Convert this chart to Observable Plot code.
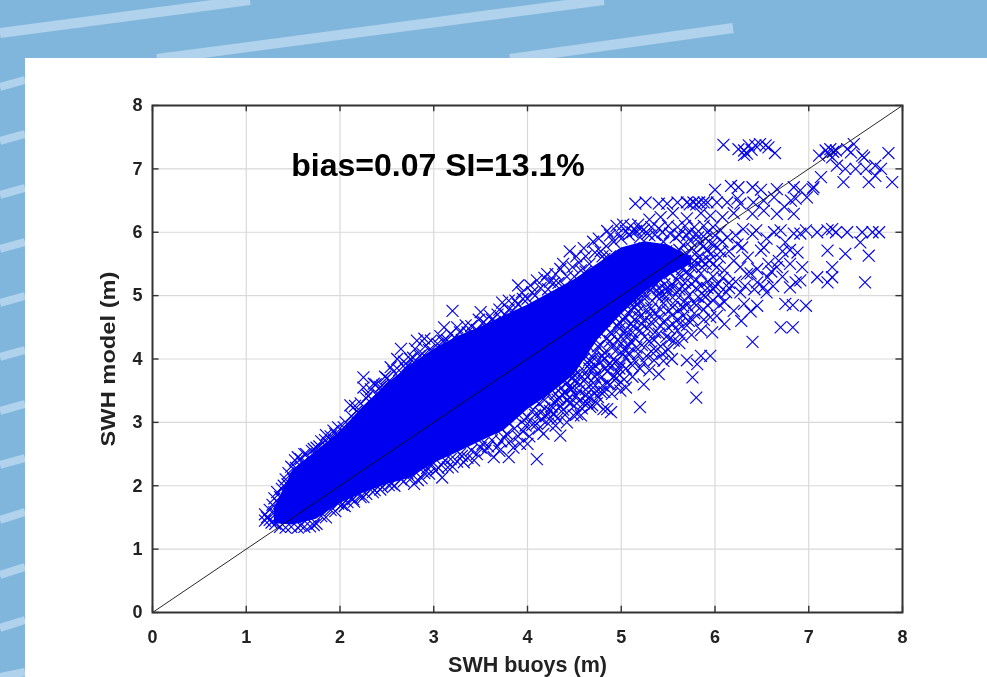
<!DOCTYPE html>
<html><head><meta charset="utf-8">
<script src="https://cdn.jsdelivr.net/npm/d3@7"></script>
<script src="https://cdn.jsdelivr.net/npm/@observablehq/plot@0.6"></script>
<style>
html,body{margin:0;padding:0;width:987px;height:677px;overflow:hidden;background:#80b6db}
#bg{position:absolute;left:0;top:0;filter:blur(0.6px)}
#panel{position:absolute;left:25px;top:58px;width:962px;height:619px;background:#fff}
#chart{position:absolute;left:0;top:0;filter:blur(0.35px)}
</style></head><body>
<svg id="bg" width="987" height="677"></svg>
<div id="panel"></div>
<div id="chart"></div>
<script>
const ticks=[0,1,2,3,4,5,6,7,8];
const xLabel="SWH buoys (m)", yLabel="SWH model (m)", note="bias=0.07 SI=13.1%";
const coreX=[1.3,1.5,1.75,2,2.25,2.5,2.75,3,3.25,3.5,3.75,4,4.25,4.5,4.75,5,5.25,5.5,5.75];
const coreLow=[1.4,1.38,1.47,1.72,1.88,2.02,2.12,2.35,2.52,2.7,2.87,3.2,3.45,3.75,4.3,4.7,5.05,5.3,5.5];
const coreHigh=[1.65,2.25,2.55,2.85,3.25,3.6,3.9,4.15,4.35,4.5,4.68,4.85,5.05,5.25,5.5,5.75,5.85,5.8,5.6];
const topCluster=[[6.09,7.38],[6.25,7.31],[6.31,7.29],[6.36,7.37],[6.31,7.22],[6.43,7.37],[6.48,7.39],[6.54,7.37],[6.57,7.34],[6.64,7.25],[6.39,7.30],[6.34,7.24]];
const rightCluster=[[7.11,7.21],[7.18,7.29],[7.23,7.31],[7.29,7.29],[7.25,7.18],[7.41,7.31],[7.48,7.39],[7.45,7.26],[7.57,7.21],[7.85,7.25],[7.30,7.05],[7.37,6.79],[7.39,7.0],[7.5,7.0],[7.61,7.0],[7.71,7.05],[7.77,7.0],[7.64,6.79],[7.71,6.89],[7.89,6.79],[7.59,7.18],[7.13,6.87],[7.05,6.71],[7.21,7.24],[7.26,7.27]];
const band65=[[6.0,6.67],[6.17,6.73],[6.25,6.71],[6.4,6.71],[6.49,6.67],[6.66,6.68],[6.84,6.71],[6.91,6.66],[6.98,6.55],[7.04,6.68],[6.81,6.5],[6.86,6.53],[6.63,6.55],[6.52,6.5],[6.41,6.47],[6.24,6.53],[6.13,6.47],[6.02,6.47],[5.88,6.47],[5.77,6.47],[5.7,6.47],[5.6,6.47],[5.49,6.45],[5.40,6.45],[5.26,6.47],[5.15,6.45],[5.83,6.47],[5.92,6.47],[5.73,6.44],[5.8,6.44],[6.66,6.29],[6.84,6.29],[6.4,6.29],[6.52,6.34],[6.27,6.45],[6.74,6.4],[6.2,6.3],[6.08,6.24],[5.95,6.26],[5.85,6.3],[5.7,6.22],[5.55,6.3],[5.42,6.24],[5.3,6.2],[5.18,6.12],[5.2,6.05],[5.1,6.1],[5.12,6.0]];
const band60=[[6.63,6.0],[6.7,6.03],[6.84,5.98],[6.91,5.98],[6.97,6.03],[7.09,6.0],[7.2,6.03],[7.25,6.05],[7.29,6.0],[7.41,6.0],[7.57,6.0],[7.68,6.0],[7.75,6.0],[7.55,5.84],[6.75,5.84],[6.88,5.68],[7.2,5.71],[7.39,5.66],[7.64,5.63],[6.93,5.45],[7.25,5.45],[7.09,5.29],[7.25,5.29],[7.2,5.21],[6.86,5.21],[6.91,5.24],[7.6,5.21],[6.57,5.5],[6.66,5.45],[6.49,5.71],[6.52,5.76],[6.4,5.97],[6.24,5.81],[6.29,5.76],[6.56,5.29],[6.45,5.21],[6.52,5.13],[6.34,5.34],[6.27,5.45],[6.2,5.55],[6.13,5.92],[6.06,6.03],[6.8,5.13],[6.35,5.6],[6.45,5.42],[6.6,5.38],[6.72,5.7],[6.15,5.7],[6.22,5.95],[6.3,6.05],[6.44,6.03],[6.55,5.9]];
const lowRight=[[6.4,4.27],[6.7,4.5],[6.83,4.5],[6.75,4.87],[6.97,4.84],[6.83,4.85],[5.8,3.39],[5.2,3.24],[4.85,3.21],[4.81,3.21],[4.89,3.16],[5.76,3.71],[5.85,4.05],[5.95,4.05],[5.7,3.98],[5.81,3.92],[5.54,4.0],[5.45,3.97],[5.37,4.13],[5.4,3.76],[5.24,3.6],[5.05,3.55],[4.97,3.6],[5.56,4.29],[5.85,4.45],[5.7,4.53],[5.95,4.66],[5.88,5.0],[6.2,4.76],[6.45,4.84],[6.31,4.87],[4.57,3.11],[4.49,3.11],[4.69,3.27],[6.05,4.85],[6.12,5.05],[6.0,5.15],[6.27,5.05]];
const lowerEdge=[[4.1,2.42],[4.35,2.79],[4.17,2.82],[4.0,2.66],[3.8,2.45],[3.64,2.45],[3.32,2.37],[3.09,2.13],[2.95,2.19],[2.79,2.03],[3.43,2.4],[3.75,2.76],[4.53,3.13],[4.25,3.08],[4.67,3.24],[4.99,3.5],[3.2,2.3],[3.55,2.55],[3.9,2.78],[3.05,2.28],[2.87,2.12],[2.65,2.1],[2.55,2.03],[2.45,1.98],[2.35,1.9],[2.25,1.82],[2.15,1.75],[2.05,1.68],[1.95,1.6],[1.85,1.5],[1.75,1.4],[1.68,1.36],[1.62,1.35],[1.55,1.34],[1.48,1.35],[1.42,1.34],[1.36,1.35],[1.31,1.4],[1.58,1.37],[1.72,1.38],[4.42,3.0],[4.6,3.3],[4.75,3.4],[4.9,3.45],[4.3,2.95],[3.98,2.95],[3.85,2.6],[3.68,2.62],[3.5,2.6],[3.28,2.5],[3.12,2.4],[2.98,2.33],[2.72,2.2],[2.62,2.24],[2.5,2.12],[2.32,2.0],[2.2,1.88],[2.1,1.82],[1.98,1.72],[1.9,1.62],[1.8,1.52]];
const lowerFringe=[[2.02,1.7],[2.08,1.74],[2.14,1.79],[2.22,1.82],[2.28,1.87],[2.37,1.93],[2.43,1.94],[2.52,2.01],[2.58,2.0],[2.68,2.07],[2.76,2.12],[2.83,2.09],[2.9,2.2],[2.93,2.28],[3.02,2.24],[3.08,2.33],[3.15,2.29],[3.18,2.42],[3.25,2.38],[3.3,2.47],[3.36,2.44],[3.4,2.56],[3.46,2.5],[3.52,2.66],[3.58,2.62],[3.62,2.72],[3.7,2.55],[3.72,2.7],[3.78,2.82],[3.82,2.7],[3.86,2.9],[3.92,2.66],[3.95,2.86],[3.96,3.04],[4.02,2.78],[4.05,2.96],[4.08,3.12],[4.12,2.9],[4.15,3.05],[4.18,3.22],[4.22,2.98],[4.24,3.18],[4.28,3.32],[4.32,3.06],[4.35,3.26],[4.37,3.44],[4.4,3.12],[4.42,3.34],[4.47,3.52],[4.5,3.26],[4.52,3.42],[4.56,3.6],[4.58,3.22],[4.62,3.52],[4.64,3.72],[4.66,3.4],[4.7,3.62],[4.72,3.9],[4.74,3.3],[4.78,3.7],[4.8,4.05],[4.82,3.48],[4.86,3.9],[4.9,4.18],[4.92,3.72],[4.96,4.3],[5.0,3.92],[5.04,4.45],[5.08,4.1],[4.88,4.42],[4.98,4.58],[5.14,4.62],[5.2,4.45],[4.5,3.65],[4.44,3.55],[4.34,3.38],[4.26,3.25],[4.14,3.15],[4.68,3.95],[4.75,4.2]];
const upperEdge=[[3.2,4.76],[3.5,4.74],[3.9,5.16],[3.73,4.89],[3.11,4.5],[3.34,4.53],[2.9,4.32],[2.65,4.16],[2.25,3.71],[2.11,3.27],[2.36,3.61],[3.53,4.58],[3.25,4.5],[2.82,4.29],[2.97,4.29],[4.1,5.24],[4.21,5.34],[2.54,3.87],[2.61,4.0],[2.75,4.0],[2.04,2.92],[1.93,2.87],[2.25,3.55],[2.45,3.58],[2.18,3.18],[2.3,3.42],[2.4,3.45],[2.5,3.7],[2.7,3.85],[2.85,4.05],[3.0,4.1],[3.1,4.28],[3.3,4.3],[3.42,4.4],[3.62,4.62],[3.8,4.78],[3.95,4.95],[4.05,5.05],[4.28,5.2],[4.35,5.42],[4.45,5.7],[4.55,5.52],[4.6,5.75],[4.7,5.85],[4.78,5.7],[4.85,6.02],[4.95,6.1],[5.02,6.12],[4.62,5.38],[4.82,5.58],[4.22,5.1],[3.68,4.7],[3.87,4.92],[4.5,5.3],[4.4,5.15],[4.92,5.85]];
const upperFringe=[[1.58,2.42],[1.64,2.5],[1.72,2.58],[1.78,2.62],[1.84,2.72],[1.9,2.78],[1.98,2.92],[2.06,3.0],[2.12,3.1],[2.16,3.26],[2.22,3.3],[2.28,3.38],[2.33,3.52],[2.38,3.6],[2.43,3.56],[2.48,3.72],[2.53,3.66],[2.57,3.8],[2.63,3.82],[2.68,3.96],[2.72,3.9],[2.78,4.02],[2.8,4.16],[2.88,4.08],[2.92,4.22],[2.95,4.14],[3.04,4.24],[3.07,4.36],[3.14,4.3],[3.18,4.4],[3.22,4.34],[3.28,4.42],[3.36,4.42],[3.4,4.52],[3.46,4.46],[3.48,4.62],[3.56,4.54],[3.6,4.68],[3.65,4.58],[3.7,4.78],[3.76,4.7],[3.8,4.92],[3.84,4.76],[3.9,4.86],[3.94,5.05],[4.0,4.95],[4.03,5.16],[4.08,5.0],[4.14,5.12],[4.18,5.28],[4.24,5.22],[4.3,5.34],[4.33,5.2],[4.38,5.5],[4.42,5.3],[4.48,5.45],[4.52,5.62],[4.57,5.4],[4.62,5.62],[4.66,5.5],[4.72,5.68],[4.76,5.9],[4.8,5.62],[4.84,5.78],[4.88,5.95],[4.97,5.98],[5.05,6.02],[4.88,5.62],[5.0,5.9],[5.08,5.96],[5.16,6.02],[5.24,6.04],[5.32,6.08],[5.4,6.06],[5.5,6.1],[5.6,6.08],[5.68,6.1],[5.78,6.08],[5.88,6.1],[5.98,6.08],[5.2,5.92],[5.28,5.98],[5.36,5.96],[5.44,6.0],[5.52,5.98],[5.62,5.96],[5.72,6.0],[5.8,5.98],[5.9,5.9],[5.96,5.82],[5.84,5.82],[5.74,5.86],[5.66,5.8]];
const leftTip=[[1.2,1.45],[1.2,1.55],[1.22,1.5],[1.25,1.62],[1.28,1.7],[1.3,1.8],[1.33,1.9],[1.38,1.95],[1.4,2.0],[1.42,2.1],[1.45,2.2],[1.48,2.3],[1.52,2.4],[1.55,2.45],[1.62,2.5],[1.6,2.35],[1.7,2.55],[1.75,2.6],[1.8,2.7],[1.85,2.8],[1.95,2.82],[1.25,1.46],[1.35,1.72],[1.5,2.1],[1.65,2.35],[1.27,1.42],[1.3,1.58],[1.36,1.82],[1.44,2.02],[1.53,2.28]];
const sparseMid=[[4.55,3.5],[4.62,3.42],[4.7,3.55],[4.78,3.48],[4.85,3.62],[4.95,3.7],[5.03,3.68],[5.12,3.72],[5.2,3.85],[5.3,3.82],[5.12,3.9],[4.98,3.85],[4.85,3.8],[4.72,3.72],[4.6,3.65],[4.5,3.75],[4.45,3.4],[4.66,3.85],[4.78,3.95],[4.92,4.0],[5.05,4.02],[5.18,4.08],[5.27,4.05],[5.35,3.98],[5.5,4.15],[5.62,4.25],[5.48,4.35],[5.35,4.3],[5.22,4.22],[5.08,4.2],[4.95,4.14],[4.82,4.1],[4.7,4.02],[4.6,4.0],[4.88,4.28],[5.0,4.35],[5.12,4.42],[5.28,4.48],[5.42,4.52],[5.55,4.55],[5.66,4.68],[5.78,4.72],[5.7,4.85],[5.55,4.7],[5.4,4.65],[5.25,4.62],[5.1,4.55],[4.98,4.48],[5.05,4.65],[5.18,4.75],[5.32,4.8],[5.45,4.88],[5.58,4.92],[5.72,5.0],[5.82,4.98],[5.92,4.85],[5.98,5.1],[5.85,5.15],[5.75,5.18],[5.62,5.1],[5.5,5.08],[5.38,5.0],[5.25,4.95],[5.15,4.9],[5.6,5.25],[5.72,5.32],[5.85,5.35],[5.98,5.3],[6.08,5.28],[6.15,5.2],[6.02,5.45],[5.9,5.5],[5.78,5.46],[5.65,5.42],[5.52,5.35],[5.42,5.25],[5.35,5.22],[5.55,5.5],[5.68,5.55],[5.82,5.6],[5.95,5.65],[6.05,5.6],[6.1,5.4],[5.55,5.62],[5.62,5.72],[5.75,5.75],[5.88,5.78],[6.0,5.8],[6.08,5.85],[5.48,5.7],[5.45,5.85],[5.58,5.92],[5.7,5.95],[5.82,5.92],[5.92,6.0],[6.0,5.95],[5.3,5.95],[5.25,5.75],[5.38,5.52],[5.28,5.42],[5.15,5.3],[5.08,5.2],[5.02,5.05],[4.9,4.8],[4.82,4.6],[4.72,4.42],[4.62,4.3],[5.1,5.0],[5.2,5.12],[5.34,5.14],[5.46,5.18],[5.15,4.32],[5.36,4.42],[5.6,4.45],[5.75,4.38],[5.72,4.6],[5.88,4.62],[6.02,4.68],[6.1,4.9],[5.97,4.42],[6.1,4.55],[6.28,4.6],[6.38,4.75],[6.15,5.12],[6.22,5.22],[6.32,5.15],[6.38,5.35],[6.42,5.1],[6.55,5.05],[6.62,5.15],[6.72,5.3],[6.68,5.55],[6.8,5.5],[6.8,5.72]];
const midFill=[[5.0,4.25],[5.06,4.38],[5.13,4.52],[5.2,4.66],[5.27,4.78],[5.33,4.92],[5.4,5.02],[5.47,5.1],[5.54,5.18],[5.62,5.33],[5.7,5.38],[5.78,5.55],[5.86,5.45],[5.94,5.55],[5.1,4.78],[5.17,4.85],[5.24,5.02],[5.31,5.08],[5.4,5.12],[5.92,5.22],[5.8,5.25],[5.68,5.2],[5.58,5.02],[5.48,4.98],[5.36,4.72],[5.22,4.55],[5.03,4.15],[4.94,3.95],[4.83,3.85],[4.75,3.78],[5.32,4.58],[5.46,4.6],[5.6,4.62],[5.66,4.82],[5.8,4.85],[5.9,4.98],[6.04,5.02],[5.5,4.75],[5.62,4.78],[5.76,4.62]];
const lowerBelt=[[3.72,2.9],[3.8,3.0],[3.88,3.08],[3.93,3.18],[4.0,3.08],[4.06,3.2],[4.12,3.3],[4.18,3.35],[4.22,3.45],[4.3,3.45],[4.36,3.55],[4.42,3.62],[4.48,3.7],[4.54,3.78],[4.6,3.82],[4.66,3.98],[4.72,4.1],[4.78,4.22],[4.84,4.32],[4.9,4.4],[4.96,4.52],[5.02,4.62],[5.08,4.72],[5.14,4.82],[5.2,4.92],[4.1,2.98],[4.2,3.1],[4.28,3.14],[4.38,3.2],[4.46,3.3],[4.55,3.34],[4.64,3.3],[4.72,3.46],[4.8,3.58],[4.88,3.6],[4.96,3.78],[5.05,3.85],[5.14,3.98],[5.24,3.95],[5.32,4.12],[5.42,4.2],[5.52,4.32],[5.44,4.08],[5.25,4.35],[5.1,4.28],[4.82,4.0],[4.7,3.85],[4.58,3.72],[4.48,3.55],[4.4,3.46],[4.32,3.36],[4.9,3.9],[5.02,4.08],[5.16,4.18],[5.3,4.28],[5.4,4.4],[5.65,4.35],[5.5,4.5],[5.62,4.55],[5.3,4.7],[5.42,4.78],[5.55,4.82],[5.68,4.92],[5.78,4.88],[5.88,4.78],[5.98,4.92],[5.44,5.0],[5.55,5.12],[5.68,5.1],[5.8,5.12],[5.92,5.12],[6.03,5.18],[5.75,5.45],[5.86,5.55],[5.98,5.5],[6.06,5.7],[5.92,5.72],[5.8,5.68],[5.7,5.65]];
const points=[...topCluster,...rightCluster,...band65,...band60,...lowRight,...lowerEdge,...lowerFringe,...upperEdge,...upperFringe,...leftTip,...sparseMid,...midFill,...lowerBelt];
const core=coreX.map((x,i)=>({x,low:coreLow[i],high:coreHigh[i]}));

const streaks=[[0,33,250,0,10],[157,59,604,0,10],[510,59,733,28,10],[0,87,25,80,8],[0,141,25,134,8],[0,195,25,188,8],[0,249,25,242,8],[0,303,25,296,8],[0,357,25,350,8],[0,411,25,404,8],[0,465,25,458,8],[0,520,25,512,8],[0,575,25,567,8],[0,628,25,620,8],[0,677,25,672,8]];
d3.select("#bg").selectAll("line").data(streaks).join("line")
 .attr("x1",d=>d[0]).attr("y1",d=>d[1]).attr("x2",d=>d[2]).attr("y2",d=>d[3]).attr("stroke-width",d=>d[4]).attr("stroke","#b0d2ed");

const blue="#0000f0", axisC="#333";
const chart=Plot.plot({
 width:987,height:677,marginLeft:152,marginRight:85,marginTop:105,marginBottom:65,
 style:{background:"transparent",fontFamily:"'Liberation Sans',Arial,sans-serif",overflow:"visible"},
 x:{domain:[0,8]},y:{domain:[0,8]},
 marks:[
  Plot.ruleX(ticks.slice(1,-1),{stroke:"#d9d9d9",strokeWidth:1.2}),
  Plot.ruleY(ticks.slice(1,-1),{stroke:"#d9d9d9",strokeWidth:1.2}),
  Plot.dot(points,{x:d=>d[0],y:d=>d[1],symbol:"times",r:5.5,stroke:blue,strokeWidth:1.15}),
  Plot.areaY(core,{x:"x",y1:"low",y2:"high",fill:blue}),
  Plot.line([[0,0],[8,8]],{x:d=>d[0],y:d=>d[1],stroke:"#111",strokeWidth:0.9}),
  Plot.ruleX(ticks,{y1:0,y2:0.1,stroke:axisC,strokeWidth:1.4}),
  Plot.ruleX(ticks,{y1:7.9,y2:8,stroke:axisC,strokeWidth:1.4}),
  Plot.ruleY(ticks,{x1:0,x2:0.07,stroke:axisC,strokeWidth:1.4}),
  Plot.ruleY(ticks,{x1:7.93,x2:8,stroke:axisC,strokeWidth:1.4}),
  Plot.frame({stroke:axisC,strokeWidth:2}),
  Plot.axisX(ticks,{tickSize:0,tickPadding:18,tickFormat:d3.format("d"),label:xLabel,labelAnchor:"center",labelArrow:"none",labelOffset:59,fontSize:18,fontWeight:"bold",fill:"#222"}),
  Plot.axisY(ticks,{tickSize:0,tickPadding:10,tickFormat:d3.format("d"),label:yLabel,labelAnchor:"center",labelArrow:"none",labelOffset:52,fontSize:18,fontWeight:"bold",fill:"#222"}),
  Plot.text([note],{x:[1.48],y:[7.05],text:d=>d,textAnchor:"start",fontSize:32,fontWeight:"bold",fill:"#000"})
 ]
});
d3.select(chart).selectAll("text").filter(function(){return this.textContent===xLabel}).attr("font-size",21.5);
d3.select(chart).selectAll("text").filter(function(){return this.textContent===yLabel}).attr("font-size",21).attr("textLength",175).attr("lengthAdjust","spacingAndGlyphs");
document.getElementById("chart").appendChild(chart);
</script></body></html>
